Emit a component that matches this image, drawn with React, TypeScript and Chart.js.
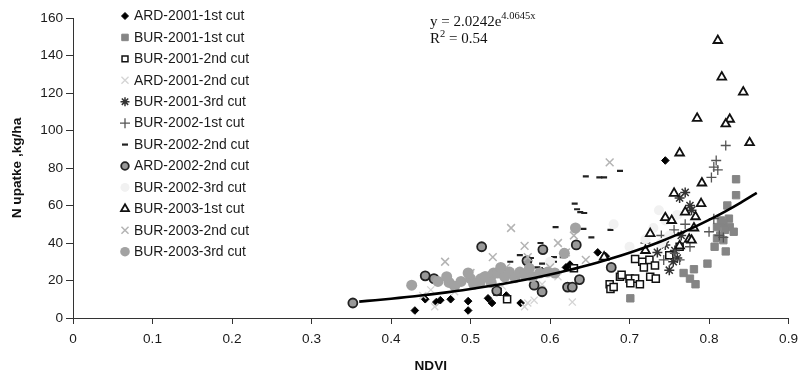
import React, { useEffect, useRef } from 'react';
import { Chart, registerables } from 'chart.js';
import { drawPoint } from 'chart.js/helpers';

Chart.register(...registerables);

// ---- Data (NDVI, N uptake kg/ha) ----
const ard2001First = [[0.43,4],[0.443,10],[0.457,8.5],[0.462,9.5],[0.475,10],[0.497,9],[0.497,4],[0.522,10.5],[0.527,8],[0.545,12],[0.563,8],[0.585,24],[0.59,25],[0.62,27],[0.625,28.5],[0.66,35],[0.67,33],[0.745,84]];
const bur2001First = [[0.834,74],[0.834,65.5],[0.823,60],[0.825,53],[0.818,50.5],[0.81,48.5],[0.826,48.5],[0.831,46],[0.814,44],[0.81,42.5],[0.818,41.5],[0.807,38],[0.821,35.5],[0.798,29],[0.781,26],[0.768,24],[0.776,21],[0.783,18],[0.701,10.5],[0.82,47],[0.815,52]];
const bur2001Second = [[0.546,10],[0.534,14],[0.63,26.5],[0.675,18],[0.676,15.5],[0.68,16.5],[0.688,22],[0.70,21],[0.707,21],[0.701,18.5],[0.713,18],[0.726,22],[0.733,21],[0.707,31.5],[0.716,30],[0.725,31],[0.718,27],[0.732,28],[0.75,33.5],[0.763,38],[0.69,23]];
const ard2001Second = [[0.45,15],[0.455,6],[0.44,12],[0.50,23],[0.52,20],[0.54,17],[0.568,6],[0.58,9.5],[0.628,8.5],[0.572,8],[0.59,18],[0.61,22],[0.48,14]];
const bur2001Third = [[0.75,25.5],[0.755,30],[0.76,32],[0.763,64],[0.77,67],[0.776,60],[0.778,57.5],[0.765,44],[0.745,39],[0.735,35],[0.757,36]];
const bur2002First = [[0.821,92],[0.809,84],[0.806,80.5],[0.811,79],[0.803,75],[0.80,46],[0.813,44],[0.818,43],[0.806,53],[0.756,47],[0.72,40],[0.757,34.5],[0.743,31],[0.776,38],[0.763,31],[0.77,50],[0.74,44]];
const bur2002Second = [[0.645,75.5],[0.662,75],[0.668,75],[0.688,78.5],[0.631,61],[0.634,58],[0.638,56.5],[0.643,56],[0.607,48.5],[0.642,47.5],[0.676,47],[0.652,43],[0.588,40],[0.562,33.5],[0.576,32],[0.605,32.5],[0.605,30],[0.616,32.5],[0.584,27],[0.55,30],[0.59,29]];
const ard2002Second = [[0.352,8],[0.443,22.5],[0.454,21],[0.514,38],[0.571,30.5],[0.591,36.5],[0.633,39],[0.677,27],[0.637,20.5],[0.622,16.5],[0.628,16.5],[0.59,14],[0.58,17.5],[0.533,14.5]];
const bur2002Third = [[0.737,57.5],[0.745,52],[0.73,48],[0.75,44],[0.72,42],[0.76,55],[0.7,38],[0.74,40],[0.68,50],[0.6,30]];
const bur2003First = [[0.811,148],[0.816,128.5],[0.843,120.5],[0.785,106.5],[0.826,106],[0.821,103.5],[0.851,93.5],[0.763,88],[0.791,72],[0.756,66.5],[0.79,61],[0.77,56.5],[0.783,54],[0.745,53.5],[0.753,52],[0.726,45],[0.781,48],[0.775,42],[0.778,41.5],[0.763,38.5],[0.668,32.5],[0.72,36]];
const bur2003Second = [[0.675,83],[0.551,48],[0.528,32.5],[0.568,38.5],[0.61,40],[0.62,35],[0.645,31],[0.572,32.5],[0.468,30],[0.50,24],[0.6,27],[0.545,27],[0.63,44]];
const bur2003Third = [[0.426,17.5],[0.459,19.5],[0.473,19],[0.488,19.5],[0.50,21],[0.504,18],[0.513,21],[0.526,22.5],[0.529,24],[0.518,22],[0.497,24],[0.512,19],[0.519,22],[0.526,19],[0.534,24],[0.543,22],[0.549,24.5],[0.556,21.5],[0.562,24.5],[0.568,23],[0.574,26.5],[0.578,22],[0.587,24],[0.597,24.5],[0.606,24],[0.618,34.5],[0.632,48],[0.538,27],[0.47,22],[0.48,17]];

const seriesLabels = ['ARD-2001-1st cut','BUR-2001-1st cut','BUR-2001-2nd cut','ARD-2001-2nd cut','BUR-2001-3rd cut','BUR-2002-1st cut','BUR-2002-2nd cut','ARD-2002-2nd cut','BUR-2002-3rd cut','BUR-2003-1st cut','BUR-2003-2nd cut','BUR-2003-3rd cut'];
const seriesData = [ard2001First, bur2001First, bur2001Second, ard2001Second, bur2001Third, bur2002First, bur2002Second, ard2002Second, bur2002Third, bur2003First, bur2003Second, bur2003Third];

// Trendline given by the chart's equation y = a e^(b x)
const trendA = 2.0242;
const trendB = 4.0645;
const trendX = [0.36,0.38,0.40,0.42,0.44,0.46,0.48,0.50,0.52,0.54,0.56,0.58,0.60,0.62,0.64,0.66,0.68,0.70,0.72,0.74,0.76,0.78,0.80,0.82,0.84,0.86];

const xTicks = [0,0.1,0.2,0.3,0.4,0.5,0.6,0.7,0.8,0.9];

const styles = [
  { pointStyle: 'rectRot', radius: 3.8, bg: '#000', border: '#000', bw: 1, legendRadius: 3.5 },
  { pointStyle: 'rect', radius: 5.2, bg: '#858585', border: '#858585', bw: 1, legendRadius: 4.6 },
  { pointStyle: 'rect', radius: 5, bg: '#fff', border: '#111', bw: 1.5, legendRadius: 4.2 },
  { pointStyle: 'crossRot', radius: 5, bg: '#d4d4d4', border: '#d4d4d4', bw: 1.3, legendRadius: 5 },
  { pointStyle: 'star', radius: 5, bg: '#333', border: '#333', bw: 1.5, legendRadius: 4.5 },
  { pointStyle: 'cross', radius: 5, bg: '#555', border: '#555', bw: 1.3, legendRadius: 5 },
  { pointStyle: 'line', radius: 3, bg: '#222', border: '#222', bw: 2.2, legendRadius: 3 },
  { pointStyle: 'circle', radius: 4.5, bg: '#999', border: '#222', bw: 1.8, legendRadius: 3.8 },
  { pointStyle: 'circle', radius: 5, bg: '#f1f1f1', border: '#f1f1f1', bw: 0, legendRadius: 4.5 },
  { pointStyle: 'triangle', radius: 5, bg: '#fff', border: '#111', bw: 1.8, legendRadius: 4.6 },
  { pointStyle: 'crossRot', radius: 5.5, bg: '#b4b4b4', border: '#b4b4b4', bw: 1.5, legendRadius: 5 },
  { pointStyle: 'circle', radius: 5.5, bg: '#a2a2a2', border: '#a2a2a2', bw: 0, legendRadius: 4.8 },
];

const serif = '"Liberation Serif", "Times New Roman", serif';

const insideLegend = {
  id: 'insideLegend',
  afterDraw(chart: any) {
    const ctx = chart.ctx;
    ctx.save();
    seriesLabels.forEach((label, i) => {
      const s = styles[i];
      const y = 16 + i * 21.43;
      ctx.fillStyle = s.bg;
      ctx.strokeStyle = s.border;
      ctx.lineWidth = s.bw;
      drawPoint(ctx, { pointStyle: s.pointStyle, radius: s.legendRadius, rotation: 0, borderWidth: s.bw }, 125, y);
      ctx.fillStyle = '#1a1a1a';
      ctx.font = '13.9px "Liberation Sans", Arial, sans-serif';
      ctx.textBaseline = 'middle';
      ctx.textAlign = 'left';
      ctx.fillText(label, 134, y + 0.5);
    });
    // equation
    ctx.fillStyle = '#111';
    ctx.textBaseline = 'alphabetic';
    ctx.font = '15px ' + serif;
    const eq = 'y = 2.0242e';
    ctx.fillText(eq, 430, 26);
    const w = ctx.measureText(eq).width;
    ctx.font = '10.5px ' + serif;
    ctx.fillText('4.0645x', 430 + w, 19);
    ctx.font = '15px ' + serif;
    ctx.fillText('R', 430, 43);
    const wr = ctx.measureText('R').width;
    ctx.font = '10.5px ' + serif;
    ctx.fillText('2', 430 + wr, 37);
    const w2 = ctx.measureText('2').width;
    ctx.font = '15px ' + serif;
    ctx.fillText(' = 0.54', 430 + wr + w2, 43);
    ctx.restore();
  },
};

export default function App() {
  const ref = useRef<HTMLCanvasElement | null>(null);
  useEffect(() => {
    if (!ref.current) return;
    const datasets: any[] = seriesData.map((d, i) => ({
      label: seriesLabels[i],
      data: d.map(([x, y]) => ({ x, y })),
      pointStyle: styles[i].pointStyle,
      pointRadius: styles[i].radius,
      backgroundColor: styles[i].bg,
      borderColor: styles[i].border,
      borderWidth: styles[i].bw,
      showLine: false,
      order: 12 - i,
    }));
    datasets.push({
      label: 'trend',
      data: trendX.map((x) => ({ x, y: trendA * Math.exp(trendB * x) })),
      showLine: true,
      pointRadius: 0,
      borderColor: '#000',
      borderWidth: 2.6,
      fill: false,
      tension: 0.3,
      order: -1,
    });
    const tickFont = { family: '"Liberation Sans", Arial, sans-serif', size: 13.6 };
    const chart = new Chart(ref.current, {
      type: 'scatter',
      data: { datasets },
      options: {
        animation: false,
        responsive: false,
        layout: { padding: { top: 18, right: 13, left: 0, bottom: 0 } },
        plugins: { legend: { display: false }, tooltip: { enabled: false } },
        scales: {
          x: {
            type: 'linear',
            min: 0,
            max: 0.9,
            afterBuildTicks: (s: any) => { s.ticks = xTicks.map((v) => ({ value: v })); },
            afterFit: (s: any) => { s.height = 60; },
            ticks: {
              color: '#1a1a1a',
              font: tickFont,
              padding: 7,
              maxRotation: 0,
              callback: (v: any) => String(Number(Number(v).toFixed(1))),
            },
            grid: { drawOnChartArea: false, drawTicks: true, tickLength: 6, color: '#333' },
            border: { display: true, color: '#333', width: 1 },
            title: { display: true, text: 'NDVI', color: '#111', font: { family: '"Liberation Sans", Arial, sans-serif', size: 13.6, weight: 'bold' }, padding: { top: 0, bottom: 4 } },
          },
          y: {
            type: 'linear',
            min: 0,
            max: 160,
            afterFit: (s: any) => { s.width = 73; },
            ticks: { stepSize: 20, color: '#1a1a1a', font: tickFont, padding: 3 },
            grid: { drawOnChartArea: false, drawTicks: true, tickLength: 7, color: '#333' },
            border: { display: true, color: '#333', width: 1 },
            title: { display: true, text: 'N upatke ,kg/ha', color: '#111', font: { family: '"Liberation Sans", Arial, sans-serif', size: 13.6, weight: 'bold' }, padding: { top: 9, bottom: 0 } },
          },
        },
      },
      plugins: [insideLegend],
    } as any);
    return () => chart.destroy();
  }, []);
  return (
    <div style={{ position: 'fixed', left: 0, top: 0, width: 805, height: 378, background: '#fff' }}>
      <canvas ref={ref} width={805} height={378} style={{ display: 'block', width: 805, height: 378 }} />
    </div>
  );
}
